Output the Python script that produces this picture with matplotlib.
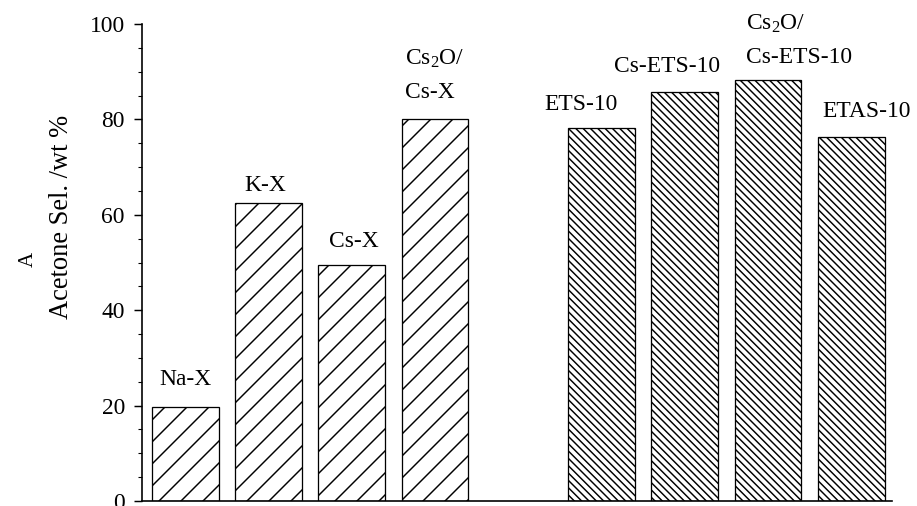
import matplotlib
matplotlib.use("Agg")
import matplotlib.pyplot as plt
from matplotlib.ticker import MultipleLocator

# ---- data ----
categories = ["Na-X", "K-X", "Cs-X", "Cs$_2$O/\nCs-X",
              "ETS-10", "Cs-ETS-10", "Cs$_2$O/\nCs-ETS-10", "ETAS-10"]
positions = [0, 1, 2, 3, 5, 6, 7, 8]
selectivity = [19.8, 62.4, 49.5, 80.1, 78.3, 85.8, 88.3, 76.4]
group = ["X", "X", "X", "X", "ETS", "ETS", "ETS", "ETS"]
y_ticks = [0, 20, 40, 60, 80, 100]

# ---- layout (pixels) ----
label_dx = [0, -3.5, 2, -30.5, -20, -18, -22, 15]
label_gap = [22, 12, 18, 21, 18, 20, 17, 20]
label_ha = ["center", "center", "center", "left", "center", "center", "left", "center"]
line_step = 33

DPI = 132
W, H = 917, 506
def px2pt(p):
    return p * 72.0 / DPI

plt.rcParams['font.family'] = ['Liberation Serif', 'DejaVu Serif']
plt.rcParams['mathtext.fontset'] = 'custom'
plt.rcParams['mathtext.rm'] = 'Liberation Serif'
plt.rcParams['mathtext.it'] = 'Liberation Serif:italic'
plt.rcParams['mathtext.default'] = 'regular'
plt.rcParams['hatch.linewidth'] = 0.8

fs = px2pt(23.5)

fig = plt.figure(figsize=(W / DPI, H / DPI), dpi=DPI)
ax = fig.add_axes([142 / W, (H - 501) / H, (892 - 142) / W, (501 - 24) / H])

hatches = {"X": "//", "ETS": "\\\\\\\\\\\\"}
for x, v, g in zip(positions, selectivity, group):
    ax.bar(x, v, width=0.8, facecolor="white", edgecolor="black",
           linewidth=0.7, hatch=hatches[g])

for x, v, lab, dx, gap, ha in zip(positions, selectivity, categories,
                                  label_dx, label_gap, label_ha):
    lines = lab.split("\n")
    for k, line in enumerate(reversed(lines)):
        ax.annotate(line, xy=(x, v), xytext=(dx, gap + k * line_step),
                    textcoords="offset pixels", ha=ha, va="baseline",
                    fontsize=fs, annotation_clip=False)

ax.set_xlim(-0.52, 8.49)
ax.set_ylim(0, 100)
ax.set_yticks(y_ticks)
ax.yaxis.set_minor_locator(MultipleLocator(5))
ax.set_xticks([])
for s in ["top", "right"]:
    ax.spines[s].set_visible(False)
for s in ["left", "bottom"]:
    ax.spines[s].set_linewidth(0.9)
ax.tick_params(axis="y", which="major", direction="out", length=px2pt(8),
               width=0.8, pad=px2pt(9), labelsize=fs)
ax.tick_params(axis="y", which="minor", direction="out", length=px2pt(4),
               width=0.6)

fig.text(61 / W, 1 - 217 / H, "Acetone Sel. /wt %", rotation=90,
         ha="center", va="center", fontsize=px2pt(26.5))
fig.text(28 / W, 1 - 259 / H, "A", rotation=90,
         ha="center", va="center", fontsize=px2pt(21))

fig.savefig("out.png", dpi=DPI)
